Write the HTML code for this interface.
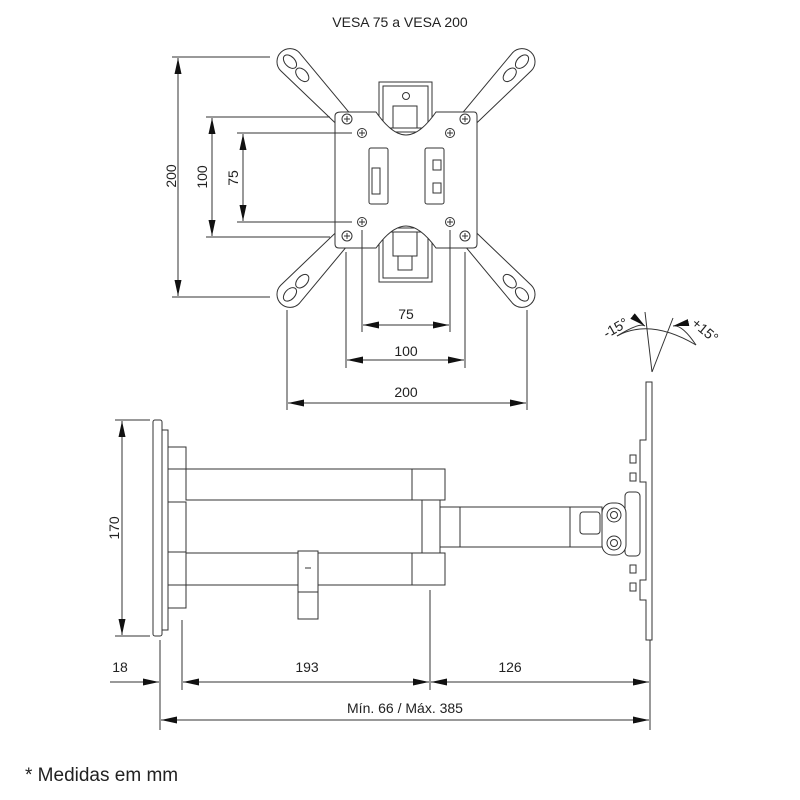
<!DOCTYPE html>
<html><head><style>
html,body{margin:0;padding:0;background:#fff;}
svg{display:block;}
text{font-family:"Liberation Sans",sans-serif;fill:#222;}
</style></head><body>
<svg width="800" height="800" viewBox="0 0 800 800" xmlns="http://www.w3.org/2000/svg">
<defs>
<marker id="a" viewBox="0 0 16 8" refX="16" refY="4" markerWidth="16" markerHeight="8" orient="auto-start-reverse" markerUnits="userSpaceOnUse"><path d="M0,0.5 L16,4 L0,7.5 z" fill="#111"/></marker>
</defs>
<g stroke="#333" stroke-width="1" fill="none">
<text x="400" y="27" font-size="14" text-anchor="middle" stroke="none">VESA 75 a VESA 200</text>
<g fill="#fff">
<g transform="translate(350,126) rotate(-133)"><path d="M0,-8 L88,-13 A13,13 0 0 1 88,13 L0,8 z"/><path d="M10,-9 L10,9"/><ellipse cx="70" cy="0" rx="8" ry="5"/><ellipse cx="88" cy="0" rx="8" ry="5"/></g>
<g transform="translate(462,126) rotate(-47)"><path d="M0,-8 L88,-13 A13,13 0 0 1 88,13 L0,8 z"/><path d="M10,-9 L10,9"/><ellipse cx="70" cy="0" rx="8" ry="5"/><ellipse cx="88" cy="0" rx="8" ry="5"/></g>
<g transform="translate(350,230) rotate(133)"><path d="M0,-8 L88,-13 A13,13 0 0 1 88,13 L0,8 z"/><path d="M10,-9 L10,9"/><ellipse cx="70" cy="0" rx="8" ry="5"/><ellipse cx="88" cy="0" rx="8" ry="5"/></g>
<g transform="translate(462,230) rotate(47)"><path d="M0,-8 L88,-13 A13,13 0 0 1 88,13 L0,8 z"/><path d="M10,-9 L10,9"/><ellipse cx="70" cy="0" rx="8" ry="5"/><ellipse cx="88" cy="0" rx="8" ry="5"/></g>
<rect x="379" y="82" width="53" height="50"/><rect x="383" y="86" width="45" height="42"/>
<circle cx="406" cy="96" r="3.5"/><rect x="393" y="106" width="24" height="22"/>
<rect x="379" y="228" width="53" height="54"/><rect x="383" y="232" width="45" height="46"/>
<rect x="393" y="232" width="24" height="24"/><rect x="398" y="256" width="14" height="14"/>
<path d="M341,112 L376,112 Q392,135 406,135 Q420,135 436,112 L474,112 Q477,112 477,116 L477,244 Q477,248 473,248 L436,248 Q420,226 406,226 Q392,226 376,248 L339,248 Q335,248 335,244 L335,116 Q335,112 341,112 z"/>
<rect x="369" y="148" width="19" height="56" rx="2"/><rect x="372" y="168" width="8" height="26"/>
<rect x="425" y="148" width="19" height="56" rx="2"/><rect x="433" y="160" width="8" height="10"/><rect x="433" y="183" width="8" height="10"/>
</g>
<g>
<circle cx="347" cy="119" r="5"/><circle cx="465" cy="119" r="5"/><circle cx="347" cy="236" r="5"/><circle cx="465" cy="236" r="5"/>
<circle cx="362" cy="133" r="4.5"/><circle cx="450" cy="133" r="4.5"/><circle cx="362" cy="222" r="4.5"/><circle cx="450" cy="222" r="4.5"/>
<path d="M344,119h6M347,116v6M462,119h6M465,116v6M344,236h6M347,233v6M462,236h6M465,233v6M359,133h6M362,130v6M447,133h6M450,130v6M359,222h6M362,219v6M447,222h6M450,219v6"/>
</g>
<path d="M172,57H270M172,297H270M206,117H330M206,237H330M237,133H352M237,222H352"/>
<path d="M178,58V296" marker-start="url(#a)" marker-end="url(#a)"/>
<path d="M212,118V236" marker-start="url(#a)" marker-end="url(#a)"/>
<path d="M243,134V221" marker-start="url(#a)" marker-end="url(#a)"/>
<text transform="translate(176,176) rotate(-90)" font-size="14" text-anchor="middle" stroke="none">200</text>
<text transform="translate(207,177) rotate(-90)" font-size="14" text-anchor="middle" stroke="none">100</text>
<text transform="translate(238,178) rotate(-90)" font-size="14" text-anchor="middle" stroke="none">75</text>
<path d="M287,310V410M527,310V410M346,252V368M465,252V368M362,230V332M450,230V332"/>
<path d="M363,325H449" marker-start="url(#a)" marker-end="url(#a)"/>
<path d="M347,360H464" marker-start="url(#a)" marker-end="url(#a)"/>
<path d="M288,403H526" marker-start="url(#a)" marker-end="url(#a)"/>
<text x="406" y="319" font-size="14" text-anchor="middle" stroke="none">75</text>
<text x="406" y="356" font-size="14" text-anchor="middle" stroke="none">100</text>
<text x="406" y="397" font-size="14" text-anchor="middle" stroke="none">200</text>
<path d="M652,372L645,312M652,372L673,318"/>
<path d="M617,336 Q640,322 645,326" marker-end="url(#a)"/>
<path d="M696,345 Q682,324 673,326" marker-end="url(#a)"/>
<path d="M617,336 Q650,318 696,345"/>
<text transform="translate(618,332) rotate(-30)" font-size="14" text-anchor="middle" stroke="none">-15°</text>
<text transform="translate(702,334) rotate(40)" font-size="14" text-anchor="middle" stroke="none">+15°</text>
<g fill="#fff">
<rect x="153" y="420" width="9" height="216" rx="2"/>
<rect x="162" y="430" width="6" height="200"/>
<rect x="168" y="447" width="18" height="22"/><rect x="168" y="502" width="18" height="50"/><rect x="168" y="585" width="18" height="23"/>
<rect x="186" y="469" width="230" height="31"/><rect x="412" y="469" width="33" height="31"/>
<rect x="186" y="553" width="230" height="32"/><rect x="412" y="553" width="33" height="32"/>
<rect x="422" y="500" width="18" height="53"/>
<rect x="440" y="507" width="162" height="40"/><line x1="460" y1="507" x2="460" y2="547"/><line x1="570" y1="507" x2="570" y2="547"/>
<rect x="298" y="551" width="20" height="68"/><line x1="298" y1="592" x2="318" y2="592"/>
<rect x="580" y="512" width="20" height="22" rx="3"/>
<rect x="625" y="492" width="15" height="64" rx="4"/>
<rect x="602" y="503" width="24" height="52" rx="10"/>
<circle cx="614" cy="515" r="7"/><circle cx="614" cy="515" r="3.5"/>
<circle cx="614" cy="543" r="7"/><circle cx="614" cy="543" r="3.5"/>
<path d="M646,382 H652 V640 H646 V600 H640 V580 H646 V482 H640 V440 H646 z"/>
<rect x="630" y="455" width="6" height="8"/><rect x="630" y="473" width="6" height="8"/>
<rect x="630" y="565" width="6" height="8"/><rect x="630" y="583" width="6" height="8"/>
</g>
<path d="M305,568h6"/>
<path d="M115,420H150M115,636H150"/>
<path d="M122,421V635" marker-start="url(#a)" marker-end="url(#a)"/>
<text transform="translate(119,528) rotate(-90)" font-size="14" text-anchor="middle" stroke="none">170</text>
<path d="M160,640V730M182,620V690M430,590V690M650,640V730"/>
<path d="M110,682H159" marker-end="url(#a)"/>
<path d="M183,682H429" marker-start="url(#a)" marker-end="url(#a)"/>
<path d="M431,682H649" marker-start="url(#a)" marker-end="url(#a)"/>
<path d="M161,720H649" marker-start="url(#a)" marker-end="url(#a)"/>
<text x="120" y="672" font-size="14" text-anchor="middle" stroke="none">18</text>
<text x="307" y="672" font-size="14" text-anchor="middle" stroke="none">193</text>
<text x="510" y="672" font-size="14" text-anchor="middle" stroke="none">126</text>
<text x="405" y="713" font-size="14" text-anchor="middle" stroke="none">Mín. 66 / Máx. 385</text>
<text x="25" y="781" font-size="19" stroke="none" fill="#333">* Medidas em mm</text>
</g>
</svg>
</body></html>
